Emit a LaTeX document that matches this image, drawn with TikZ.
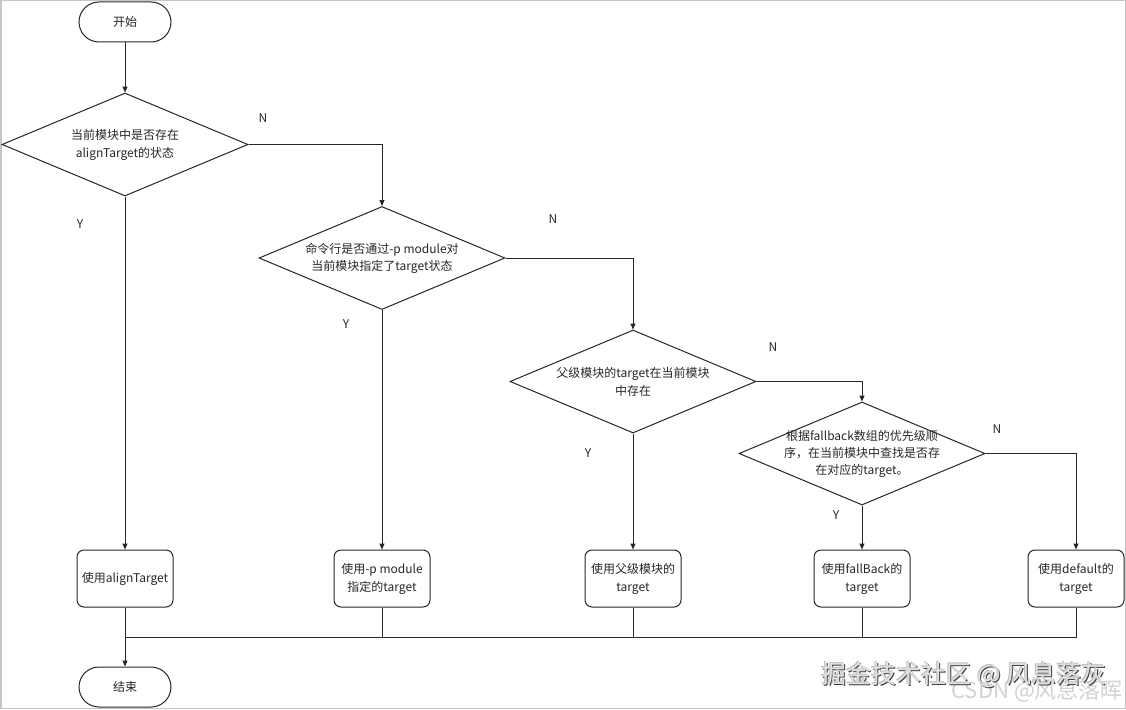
\documentclass[tikz,border=0pt]{standalone}
\usepackage{fontspec}
\setmainfont{Noto Sans CJK SC}
\usetikzlibrary{shapes.geometric,arrows.meta}
\begin{document}
\begin{tikzpicture}[x=1pt,y=-1pt,line width=1pt,color=black!85,
  every node/.style={font=\fontsize{12}{17}\selectfont},
  term/.style={draw, rectangle, rounded corners=20pt, minimum width=92pt, minimum height=40pt, inner sep=0pt},
  dia/.style={draw, diamond, minimum width=246pt, minimum height=103pt, inner sep=0pt, aspect=2.4},
  proc/.style={draw, rectangle, rounded corners=7pt, minimum width=96pt, minimum height=57pt, inner sep=0pt, align=center, font=\fontsize{12}{18}\selectfont},
  arr/.style={-{Triangle[length=6pt,width=5pt]}},
  yn/.style={inner sep=0pt, font=\fontsize{12}{14}\selectfont},
  dtext/.style={align=center, inner sep=0pt},
  ]
\useasboundingbox (0,0) rectangle (1126,709);
\draw[gray!45, line width=1.5pt] (0.75,0.75) rectangle (1125.25,708.25);

% terminals
\node[term] (start) at (125,22) {开始};
\node[term] (end) at (125,687) {结束};

% decisions
\node[dia, label={[dtext, font=\fontsize{12}{18}\selectfont]center:{当前模块中是否存在\\alignTarget的状态}}] (d1) at (125,144.5) {};
\node[dia, label={[dtext]center:{命令行是否通过-p module对\\当前模块指定了target状态}}] (d2) at (382,258) {};
\node[dia, label={[dtext, font=\fontsize{12}{18}\selectfont]center:{父级模块的target在当前模块\\中存在}}] (d3) at (633,381.5) {};
\node[dia, label={[dtext]center:{根据fallback数组的优先级顺\\序，在当前模块中查找是否存\\在对应的target。}}] (d4) at (862,453.5) {};

% processes
\node[proc] (b1) at (125,578.5) {使用alignTarget};
\node[proc] (b2) at (382,578.5) {使用-p module\\指定的target};
\node[proc] (b3) at (633,578.5) {使用父级模块的\\target};
\node[proc] (b4) at (862,578.5) {使用fallBack的\\target};
\node[proc] (b5) at (1076,578.5) {使用default的\\target};

\coordinate (m) at (125,637);

% connectors
\draw[arr] (start) -- (d1);
\draw[arr] (d1.east) -| (d2.north);
\draw[arr] (d1.south) -- (b1.north);
\draw[arr] (d2.east) -| (d3.north);
\draw[arr] (d2.south) -- (b2.north);
\draw[arr] (d3.east) -| (d4.north);
\draw[arr] (d3.south) -- (b3.north);
\draw[arr] (d4.east) -| (b5.north);
\draw[arr] (d4.south) -- (b4.north);

\draw (b2.south) |- (m);
\draw (b3.south) |- (m);
\draw (b4.south) |- (m);
\draw (b5.south) |- (m);
\draw[arr] (b1.south) -- (end.north);

% labels
\node[yn] (n1) at (263,118) {N};
\node[yn] (y1) at (80,224) {Y};
\node[yn] (n2) at (553,219) {N};
\node[yn] (y2) at (346,324) {Y};
\node[yn] (n3) at (773,347) {N};
\node[yn] (y3) at (588,453) {Y};
\node[yn] (n4) at (997,429) {N};
\node[yn] (y4) at (836,515) {Y};

% watermarks
\node[anchor=west, inner sep=0pt, text=gray!35, font=\fontsize{22}{22}\selectfont] (wm2) at (951,691) {CSDN @风息落晖};
\node[anchor=west, inner sep=0pt, text=black!75, font=\fontsize{25}{25}\selectfont] (wm1s) at (822,676) {掘金技术社区 @ 风息落灰};
\node[anchor=west, inner sep=0pt, text=gray!50, font=\fontsize{25}{25}\selectfont] (wm1h) at (820.4,674.4) {掘金技术社区 @ 风息落灰};
\node[anchor=west, inner sep=0pt, text=white!88!black, font=\fontsize{25}{25}\selectfont] (wm1) at (821,675) {掘金技术社区 @ 风息落灰};
\end{tikzpicture}
\end{document}
